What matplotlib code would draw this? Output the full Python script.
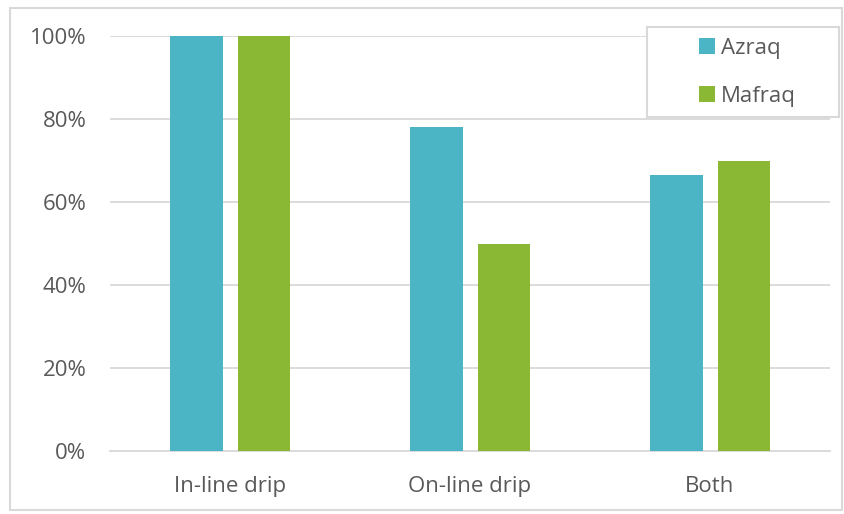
import matplotlib
matplotlib.use("Agg")
import matplotlib.pyplot as plt
import numpy as np
from matplotlib.patches import Rectangle

categories = ["In-line drip", "On-line drip", "Both"]
azraq = [1.00, 0.78, 0.665]
mafraq = [1.00, 0.50, 0.70]
series_names = ["Azraq", "Mafraq"]
yticks = [0, 0.2, 0.4, 0.6, 0.8, 1.0]
ytick_labels = ["0%", "20%", "40%", "60%", "80%", "100%"]

plt.rcParams['font.family'] = ['Open Sans', 'DejaVu Sans']
text_color = "#595959"
teal = "#4BB5C6"
green = "#8BB834"
border = "#D9D9D9"

W, H = 844, 514
fig = plt.figure(figsize=(W / 100, H / 100), dpi=100)

# outer chart border
fig.patches.append(Rectangle((10 / W, 1 - 510 / H), (842 - 10) / W, (510 - 8) / H,
                             transform=fig.transFigure, fill=False,
                             edgecolor=border, linewidth=1.5))

ax = fig.add_axes([110 / W, 1 - 451 / H, 720 / W, 415 / H])
x = np.arange(len(categories))
w = 0.22
gap = 0.0625
ax.bar(x - (w + gap) / 2, azraq, width=w, color=teal, label=series_names[0], zorder=3)
ax.bar(x + (w + gap) / 2, mafraq, width=w, color=green, label=series_names[1], zorder=3)

ax.set_xlim(-0.5, len(categories) - 0.5)
ax.set_ylim(0, 1.0)
ax.set_yticks(yticks)
ax.set_yticklabels(ytick_labels)
ax.set_xticks(x)
ax.set_xticklabels(categories)
ax.yaxis.grid(True, color=border, linewidth=1.3, zorder=0)
ax.set_axisbelow(True)
for s in ["top", "right", "left"]:
    ax.spines[s].set_visible(False)
ax.spines["bottom"].set_color(border)
ax.spines["bottom"].set_linewidth(1.3)
ax.tick_params(axis="both", length=0, colors=text_color, labelsize=16)
ax.tick_params(axis="y", pad=17)
ax.tick_params(axis="x", pad=18)

# legend box, with the entries placed inside it
fig.patches.append(Rectangle((647 / W, 1 - 117 / H), (839 - 647) / W, (117 - 27) / H,
                             transform=fig.transFigure, facecolor="white",
                             edgecolor=border, linewidth=1.5, zorder=5))
leg = fig.legend(loc="upper left", bbox_to_anchor=(699 / W, 1 - 38 / H),
                 fontsize=16, frameon=False,
                 handlelength=0.7, handleheight=0.7, handletextpad=0.3,
                 labelspacing=1.2, borderpad=0, borderaxespad=0)
leg.set_zorder(6)
for t in leg.get_texts():
    t.set_color(text_color)

fig.savefig("out.png", dpi=100)
